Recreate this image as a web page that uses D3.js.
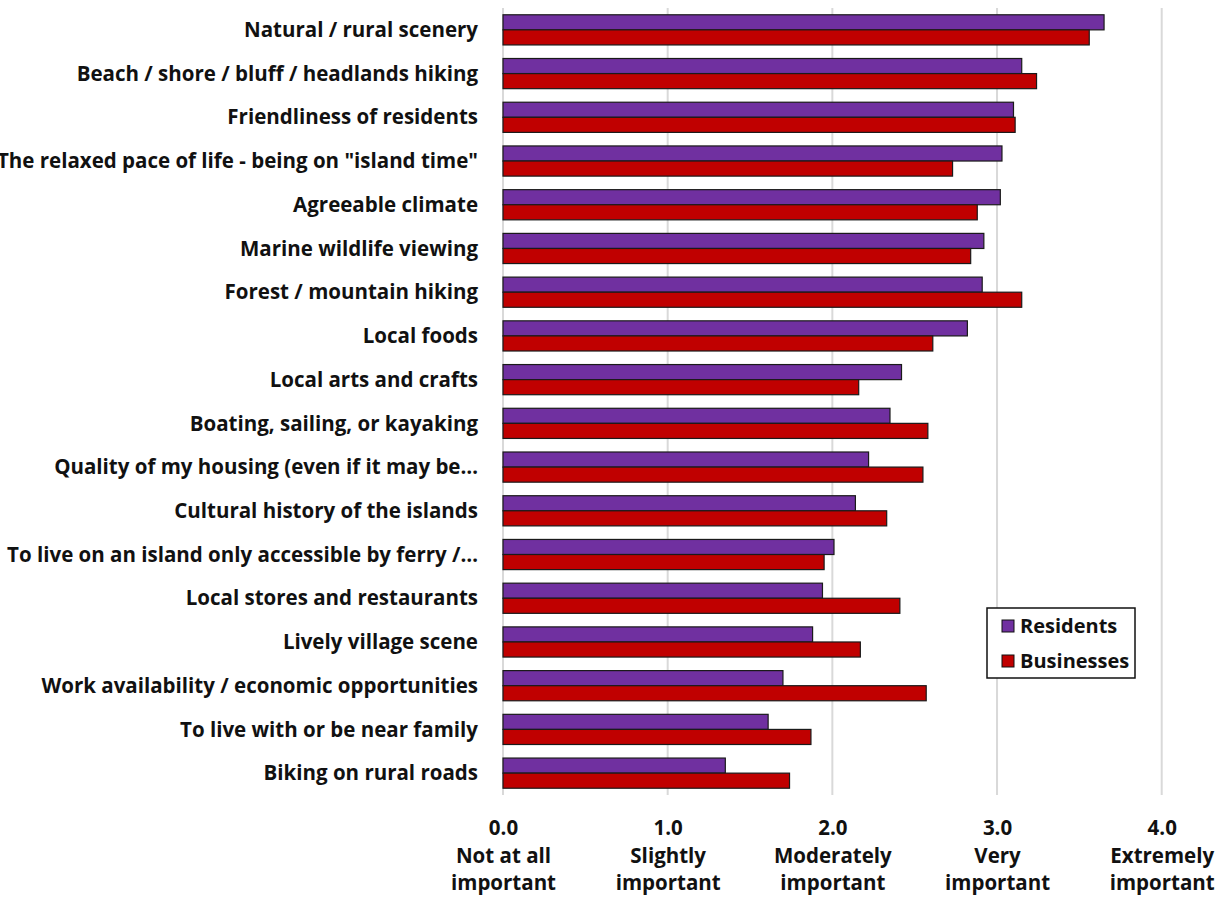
<!DOCTYPE html>
<html>
<head>
<meta charset="utf-8">
<title>Importance ratings</title>
<script src="https://d3js.org/d3.v7.min.js"></script>
<style>
  body { margin: 0; background: #fff; }
  svg text { font-family: "Open Sans", sans-serif; font-weight: bold; fill: #111; }
</style>
</head>
<body>
<div id="chart"></div>
<script>
var categories = [
  'Natural / rural scenery',
  'Beach / shore / bluff / headlands hiking',
  'Friendliness of residents',
  'The relaxed pace of life - being on "island time"',
  'Agreeable climate',
  'Marine wildlife viewing',
  'Forest / mountain hiking',
  'Local foods',
  'Local arts and crafts',
  'Boating, sailing, or kayaking',
  'Quality of my housing (even if it may be\u2026',
  'Cultural history of the islands',
  'To live on an island only accessible by ferry /\u2026',
  'Local stores and restaurants',
  'Lively village scene',
  'Work availability / economic opportunities',
  'To live with or be near family',
  'Biking on rural roads'
];
var residents = [3.65, 3.15, 3.10, 3.03, 3.02, 2.92, 2.91, 2.82, 2.42, 2.35, 2.22, 2.14, 2.01, 1.94, 1.88, 1.70, 1.61, 1.35];
var businesses = [3.56, 3.24, 3.11, 2.73, 2.88, 2.84, 3.15, 2.61, 2.16, 2.58, 2.55, 2.33, 1.95, 2.41, 2.17, 2.57, 1.87, 1.74];
var seriesNames = ['Residents', 'Businesses'];
var seriesColors = ['#7030A0', '#C00000'];
var tickValues = [0, 1, 2, 3, 4];
var tickLabels = [
  ['Not at all', 'important'],
  ['Slightly', 'important'],
  ['Moderately', 'important'],
  ['Very', 'important'],
  ['Extremely', 'important']
];

var width = 1215, height = 897;
var margin = { top: 8, right: 55, bottom: 102, left: 503 };
var innerH = height - margin.top - margin.bottom;

var svg = d3.select('#chart').append('svg')
  .attr('width', width)
  .attr('height', height);
var g = svg.append('g')
  .attr('transform', 'translate(' + margin.left + ',' + margin.top + ')');

var x = d3.scaleLinear().domain([0, 4]).range([0, 658.7]);
var y = d3.scaleBand().domain(categories).range([0, innerH]).paddingInner(0.31).paddingOuter(0.155);
var ySub = d3.scaleBand().domain(seriesNames).range([0, y.bandwidth()]);

// gridlines
g.selectAll('.grid').data(tickValues).enter().append('line')
  .attr('class', 'grid')
  .attr('x1', function(d) { return x(d); })
  .attr('x2', function(d) { return x(d); })
  .attr('y1', 0)
  .attr('y2', innerH)
  .attr('stroke', '#d9d9d9')
  .attr('stroke-width', 2);

// bars
var rows = categories.map(function(c, i) {
  return { cat: c, vals: [residents[i], businesses[i]] };
});
var grp = g.selectAll('.row').data(rows).enter().append('g')
  .attr('transform', function(d) { return 'translate(0,' + y(d.cat) + ')'; });
grp.selectAll('rect').data(function(d) {
  return d.vals.map(function(v, j) { return { s: seriesNames[j], v: v, j: j }; });
}).enter().append('rect')
  .attr('x', 0)
  .attr('y', function(d) { return ySub(d.s); })
  .attr('width', function(d) { return x(d.v); })
  .attr('height', ySub.bandwidth())
  .attr('fill', function(d) { return seriesColors[d.j]; })
  .attr('stroke', '#1a1a1a')
  .attr('stroke-width', 1.2);

// category labels
g.selectAll('.cat').data(categories).enter().append('text')
  .attr('class', 'cat')
  .attr('x', -25)
  .attr('y', function(d) { return y(d) + y.bandwidth() / 2; })
  .attr('dy', '0.35em')
  .attr('text-anchor', 'end')
  .attr('font-size', 20.5)
  .text(function(d) { return d; });

// x axis with multi-line tick labels
var xAxis = d3.axisBottom(x).tickValues(tickValues).tickSize(0).tickFormat(d3.format('.1f'));
var ax = g.append('g')
  .attr('transform', 'translate(0,' + innerH + ')')
  .call(xAxis);
ax.select('.domain').remove();
ax.selectAll('.tick text')
  .attr('font-size', 20.5)
  .attr('font-family', '"Open Sans", sans-serif')
  .attr('fill', '#111')
  .attr('y', null)
  .attr('dy', null)
  .each(function(d, i) {
    var t = d3.select(this);
    var v = t.text();
    t.text(null);
    t.append('tspan').attr('x', 0).attr('y', 40).text(v);
    tickLabels[i].forEach(function(line, k) {
      t.append('tspan').attr('x', 0).attr('y', 68 + k * 27).text(line);
    });
  });

// legend
var legend = svg.append('g').attr('transform', 'translate(987,608)');
legend.append('rect')
  .attr('width', 148).attr('height', 70)
  .attr('fill', '#fff').attr('stroke', '#111').attr('stroke-width', 1.5);
seriesNames.forEach(function(s, i) {
  legend.append('rect')
    .attr('x', 15).attr('y', 12 + i * 35)
    .attr('width', 12).attr('height', 12)
    .attr('fill', seriesColors[i]).attr('stroke', '#111');
  legend.append('text')
    .attr('x', 33).attr('y', 18 + i * 35)
    .attr('dy', '0.35em')
    .attr('font-size', 20)
    .text(s);
});
</script>
</body>
</html>
